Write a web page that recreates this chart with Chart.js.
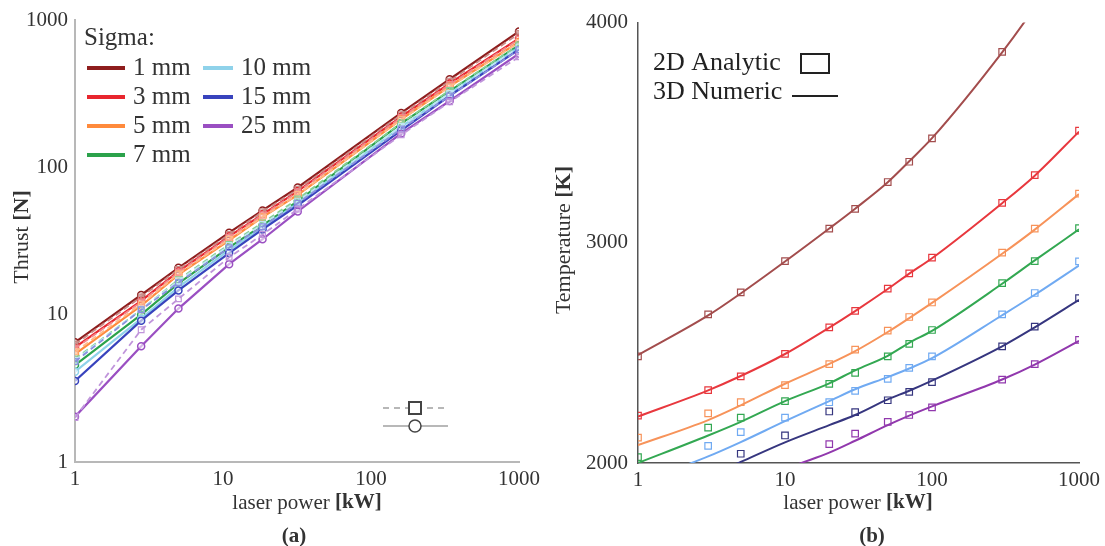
<!DOCTYPE html>
<html>
<head>
<meta charset="utf-8">
<script src="https://cdn.jsdelivr.net/npm/chart.js@4"></script>
<style>
  body { margin: 0; background: #fff; }
  #wrapA { position: absolute; left: 0; top: 0; width: 545px; height: 546px; }
  #wrapB { position: absolute; left: 545px; top: 0; width: 560px; height: 546px; }
</style>
</head>
<body>
<div id="wrapA"><canvas id="chartA" width="545" height="546"></canvas></div>
<div id="wrapB"><canvas id="chartB" width="560" height="546"></canvas></div>
<script>
var sigmaLabels = ['1 mm', '3 mm', '5 mm', '7 mm', '10 mm', '15 mm', '25 mm'];
var powerTicks = [1, 10, 100, 1000];
var thrustTicks = [1, 10, 100, 1000];
var tempTicks = [2000, 3000, 4000];

// (a) thrust vs laser power
var thrustPower = [1, 2.8, 5, 11, 18.5, 32, 160, 340, 1000];
// 3D numeric (solid, circles)
var thrustNum1 = [6.5, 13.6, 20.8, 36, 51, 73, 234, 396, 837];
var thrustNum3 = [6.0, 12.4, 19.7, 34, 48, 69, 221, 371, 750];
var thrustNum5 = [5.4, 11.5, 18.7, 32, 46, 65, 212, 355, 711];
var thrustNum7 = [4.55, 10, 16.3, 28.6, 40.4, 59, 199, 329, 674];
var thrustNum10 = [4.1, 9.4, 15.4, 27.4, 39, 57, 188, 317, 655];
var thrustNum15 = [3.55, 9.1, 14.6, 26.2, 37.9, 55.3, 178, 306, 632];
var thrustNum25 = [2.03, 6.1, 11.0, 22, 32.5, 50.2, 170, 282, 590];
// 2D analytic (dashed, squares)
var thrustAna1 = [6.3, 13.2, 20.3, 35, 50, 71, 228, 385, 810];
var thrustAna3 = [5.9, 12.2, 19.4, 33.5, 47.5, 68, 218, 365, 740];
var thrustAna5 = [5.6, 11.8, 18.9, 32.5, 46, 65.5, 211, 352, 705];
var thrustAna7 = [5.0, 10.8, 17.3, 30, 42, 61, 200, 333, 678];
var thrustAna10 = [4.9, 10.9, 17, 29.5, 41, 59, 190, 318, 655];
var thrustAna15 = [4.8, 10.8, 16.5, 28.5, 39.5, 57, 182, 305, 628];
var thrustAna25 = [2.0, 7.9, 12.8, 24.5, 35, 52, 166, 278, 562];

// (b) temperature vs laser power
var tempPower = [1, 3, 5, 10, 20, 30, 50, 70, 100, 300, 500, 1000];
// 3D numeric (lines)
var tempNum1 = [2490, 2670, 2770, 2915, 3065, 3155, 3275, 3370, 3475, 3865, 4070, 4380];
var tempNum3 = [2211, 2330, 2395, 2495, 2615, 2690, 2790, 2860, 2930, 3180, 3305, 3505];
var tempNum5 = [2081, 2195, 2262, 2360, 2450, 2508, 2595, 2658, 2727, 2950, 3060, 3221];
var tempNum7 = [2000, 2125, 2187, 2281, 2362, 2421, 2487, 2546, 2600, 2814, 2920, 3061];
var tempNum10 = [1910, 2030, 2095, 2190, 2281, 2335, 2390, 2429, 2476, 2671, 2764, 2897];
var tempNum15 = [1820, 1940, 2005, 2094, 2172, 2218, 2289, 2328, 2374, 2530, 2616, 2741];
var tempNum25 = [1680, 1800, 1860, 1970, 2047, 2101, 2172, 2215, 2257, 2379, 2447, 2555];
// 2D analytic (squares)
var tempAna1 = [2484, 2675, 2775, 2917, 3064, 3154, 3276, 3368, 3474, 3867, null, null];
var tempAna3 = [2215, 2331, 2393, 2496, 2616, 2691, 2792, 2861, 2933, 3181, 3307, 3509];
var tempAna5 = [2115, 2225, 2276, 2354, 2449, 2515, 2601, 2663, 2729, 2955, 3064, 3223];
var tempAna7 = [2027, 2161, 2206, 2281, 2359, 2409, 2484, 2541, 2604, 2817, 2917, 3067];
var tempAna10 = [null, 2078, 2140, 2206, 2276, 2328, 2382, 2432, 2484, 2675, 2772, 2916];
var tempAna15 = [null, null, 2042, 2125, 2234, 2231, 2285, 2323, 2367, 2530, 2619, 2749];
var tempAna25 = [null, null, null, null, 2086, 2133, 2187, 2218, 2253, 2379, 2449, 2559];

var colorsA = ['#8e1d1d', '#e8262e', '#ff8a3c', '#2ba24b', '#8fd2ea', '#3843bd', '#9a4fc2'];
var dashColorsA = ['#c98a86', '#f3878a', '#ffb989', '#86cf94', '#bfe6f3', '#8a8fe0', '#c095db'];
var colorsB = ['#a34d4d', '#e8383e', '#f7935a', '#33a852', '#70aaf2', '#36367f', '#9138ad'];

var thrustNum = [thrustNum1, thrustNum3, thrustNum5, thrustNum7, thrustNum10, thrustNum15, thrustNum25];
var thrustAna = [thrustAna1, thrustAna3, thrustAna5, thrustAna7, thrustAna10, thrustAna15, thrustAna25];
var tempNum = [tempNum1, tempNum3, tempNum5, tempNum7, tempNum10, tempNum15, tempNum25];
var tempAna = [tempAna1, tempAna3, tempAna5, tempAna7, tempAna10, tempAna15, tempAna25];

var serif = 'Liberation Serif';

function pts(xs, ys) {
    return xs.map(function (x, k) { return { x: x, y: ys[k] }; });
}

// text with a plain part and a bold part
function mixedText(ctx, plain, bold, x, y, size) {
    ctx.font = size + 'px "' + serif + '"';
    var w1 = ctx.measureText(plain).width;
    ctx.font = 'bold ' + size + 'px "' + serif + '"';
    var w2 = ctx.measureText(bold).width;
    var left = x - (w1 + w2) / 2;
    ctx.textAlign = 'left';
    ctx.textBaseline = 'middle';
    ctx.font = size + 'px "' + serif + '"';
    ctx.fillText(plain, left, y);
    ctx.font = 'bold ' + size + 'px "' + serif + '"';
    ctx.fillText(bold, left + w1, y);
}

function axisTexts(ctx, o) {
    ctx.save();
    ctx.fillStyle = '#333';
    mixedText(ctx, 'laser power ', '[kW]', o.xTitleX, 503, 21);
    ctx.font = 'bold 21px "' + serif + '"';
    ctx.textAlign = 'center';
    ctx.fillText(o.tag, o.tagX, 537);
    ctx.translate(o.yTitleX, o.yTitleY);
    ctx.rotate(-Math.PI / 2);
    mixedText(ctx, o.yPlain, o.yBold, 0, 0, 22);
    ctx.restore();
}

var textsA = {
    id: 'textsA',
    afterDraw: function (chart) {
        var ctx = chart.ctx;
        axisTexts(ctx, { xTitleX: 307, tag: '(a)', tagX: 294, yTitleX: 22, yTitleY: 237, yPlain: 'Thrust ', yBold: '[N]' });
        ctx.save();
        ctx.fillStyle = '#333';
        ctx.textBaseline = 'middle';
        ctx.textAlign = 'left';
        ctx.font = '25px "' + serif + '"';
        ctx.fillText('Sigma:', 84, 38);
        var rowY = [68, 97, 126, 155];
        sigmaLabels.forEach(function (lab, i) {
            var col = i < 4 ? 0 : 1;
            var y = rowY[col === 0 ? i : i - 4];
            var x0 = col === 0 ? 87 : 203;
            var x1 = col === 0 ? 125 : 233;
            ctx.strokeStyle = colorsA[i];
            ctx.lineWidth = 4;
            ctx.beginPath();
            ctx.moveTo(x0, y);
            ctx.lineTo(x1, y);
            ctx.stroke();
            ctx.fillText(lab, x1 + 8, y);
        });
        // marker key
        ctx.strokeStyle = '#a0a0a0';
        ctx.lineWidth = 1.5;
        ctx.setLineDash([6, 5]);
        ctx.beginPath();
        ctx.moveTo(383, 408);
        ctx.lineTo(448, 408);
        ctx.stroke();
        ctx.setLineDash([]);
        ctx.beginPath();
        ctx.moveTo(383, 426);
        ctx.lineTo(448, 426);
        ctx.stroke();
        ctx.fillStyle = '#fff';
        ctx.strokeStyle = '#444';
        ctx.lineWidth = 2;
        ctx.fillRect(409, 402, 12, 12);
        ctx.strokeRect(409, 402, 12, 12);
        ctx.beginPath();
        ctx.arc(415, 426, 6, 0, Math.PI * 2);
        ctx.fill();
        ctx.lineWidth = 1.5;
        ctx.stroke();
        ctx.restore();
    }
};

var textsB = {
    id: 'textsB',
    afterDraw: function (chart) {
        var ctx = chart.ctx;
        axisTexts(ctx, { xTitleX: 313, tag: '(b)', tagX: 327, yTitleX: 19, yTitleY: 240, yPlain: 'Temperature ', yBold: '[K]' });
        ctx.save();
        ctx.fillStyle = '#222';
        ctx.textBaseline = 'middle';
        ctx.textAlign = 'left';
        ctx.font = '26px "' + serif + '"';
        ctx.fillText('2D Analytic', 108, 63);
        ctx.fillText('3D Numeric', 108, 92);
        ctx.strokeStyle = '#222';
        ctx.lineWidth = 2;
        ctx.strokeRect(256, 54, 28, 19);
        ctx.beginPath();
        ctx.moveTo(247, 96);
        ctx.lineTo(293, 96);
        ctx.stroke();
        ctx.restore();
    }
};

function logAxis(tickList, size, borderColor, borderWidth, padding, vertical) {
    var ax = {
        type: 'logarithmic',
        min: 1,
        max: 1000,
        afterBuildTicks: function (s) { s.ticks = tickList.map(function (v) { return { value: v }; }); },
        grid: { display: false, drawTicks: false },
        border: { display: true, color: borderColor, width: borderWidth },
        ticks: {
            font: { family: serif, size: 21 },
            color: '#333',
            padding: padding,
            autoSkip: false,
            maxRotation: 0,
            callback: function (v) { return String(v); }
        }
    };
    if (vertical) {
        ax.afterFit = function (s) { s.width = size; };
    } else {
        ax.afterFit = function (s) { s.height = size; };
    }
    return ax;
}

var dataA = [];
sigmaLabels.forEach(function (lab, i) {
    dataA.push({
        label: lab + ' numeric',
        data: pts(thrustPower, thrustNum[i]),
        borderColor: colorsA[i],
        borderWidth: 2.2,
        pointStyle: 'circle',
        pointRadius: 3.5,
        pointBorderWidth: 1.5,
        pointBorderColor: colorsA[i],
        pointBackgroundColor: 'rgba(255,255,255,0.6)',
        tension: 0,
        order: 20 - i
    });
    dataA.push({
        label: lab + ' analytic',
        data: pts(thrustPower, thrustAna[i]),
        borderColor: dashColorsA[i],
        borderWidth: 1.8,
        borderDash: [6, 4],
        pointStyle: 'rect',
        pointRadius: 4,
        pointBorderWidth: 1.2,
        pointBorderColor: dashColorsA[i],
        pointBackgroundColor: 'rgba(255,255,255,0)',
        tension: 0,
        order: 10 - i
    });
});

var dataB = [];
sigmaLabels.forEach(function (lab, i) {
    dataB.push({
        label: lab + ' numeric',
        data: pts(tempPower, tempNum[i]),
        borderColor: colorsB[i],
        borderWidth: 2,
        pointRadius: 0,
        cubicInterpolationMode: 'monotone'
    });
    dataB.push({
        label: lab + ' analytic',
        data: pts(tempPower, tempAna[i]),
        showLine: false,
        borderColor: colorsB[i],
        pointStyle: 'rect',
        pointRadius: 4.6,
        pointBorderWidth: 1.2,
        pointBorderColor: colorsB[i],
        pointBackgroundColor: 'rgba(255,255,255,0)'
    });
});

var chartA = new Chart(document.getElementById('chartA'), {
    type: 'line',
    data: { datasets: dataA },
    options: {
        responsive: false,
        animation: false,
        layout: { padding: { top: 20, right: 24, left: 0, bottom: 0 } },
        plugins: { legend: { display: false }, tooltip: { enabled: false } },
        scales: {
            x: logAxis(powerTicks, 84, '#b8b8b8', 2, 5, false),
            y: logAxis(thrustTicks, 75, '#b8b8b8', 2, 7, true)
        }
    },
    plugins: [textsA]
});

var tempY = {
    type: 'linear',
    min: 2000,
    max: 4000,
    afterBuildTicks: function (s) { s.ticks = tempTicks.map(function (v) { return { value: v }; }); },
    afterFit: function (s) { s.width = 93; },
    grid: { display: false, drawTicks: false },
    border: { display: true, color: '#555', width: 1.5 },
    ticks: {
        font: { family: serif, size: 21 },
        color: '#333',
        padding: 10,
        callback: function (v) { return String(v); }
    }
};

var chartB = new Chart(document.getElementById('chartB'), {
    type: 'line',
    data: { datasets: dataB },
    options: {
        responsive: false,
        animation: false,
        layout: { padding: { top: 17, right: 22, left: 0, bottom: 0 } },
        plugins: { legend: { display: false }, tooltip: { enabled: false } },
        scales: {
            x: logAxis(powerTicks, 83, '#555', 1.5, 5, false),
            y: tempY
        }
    },
    plugins: [textsB]
});
</script>
</body>
</html>
